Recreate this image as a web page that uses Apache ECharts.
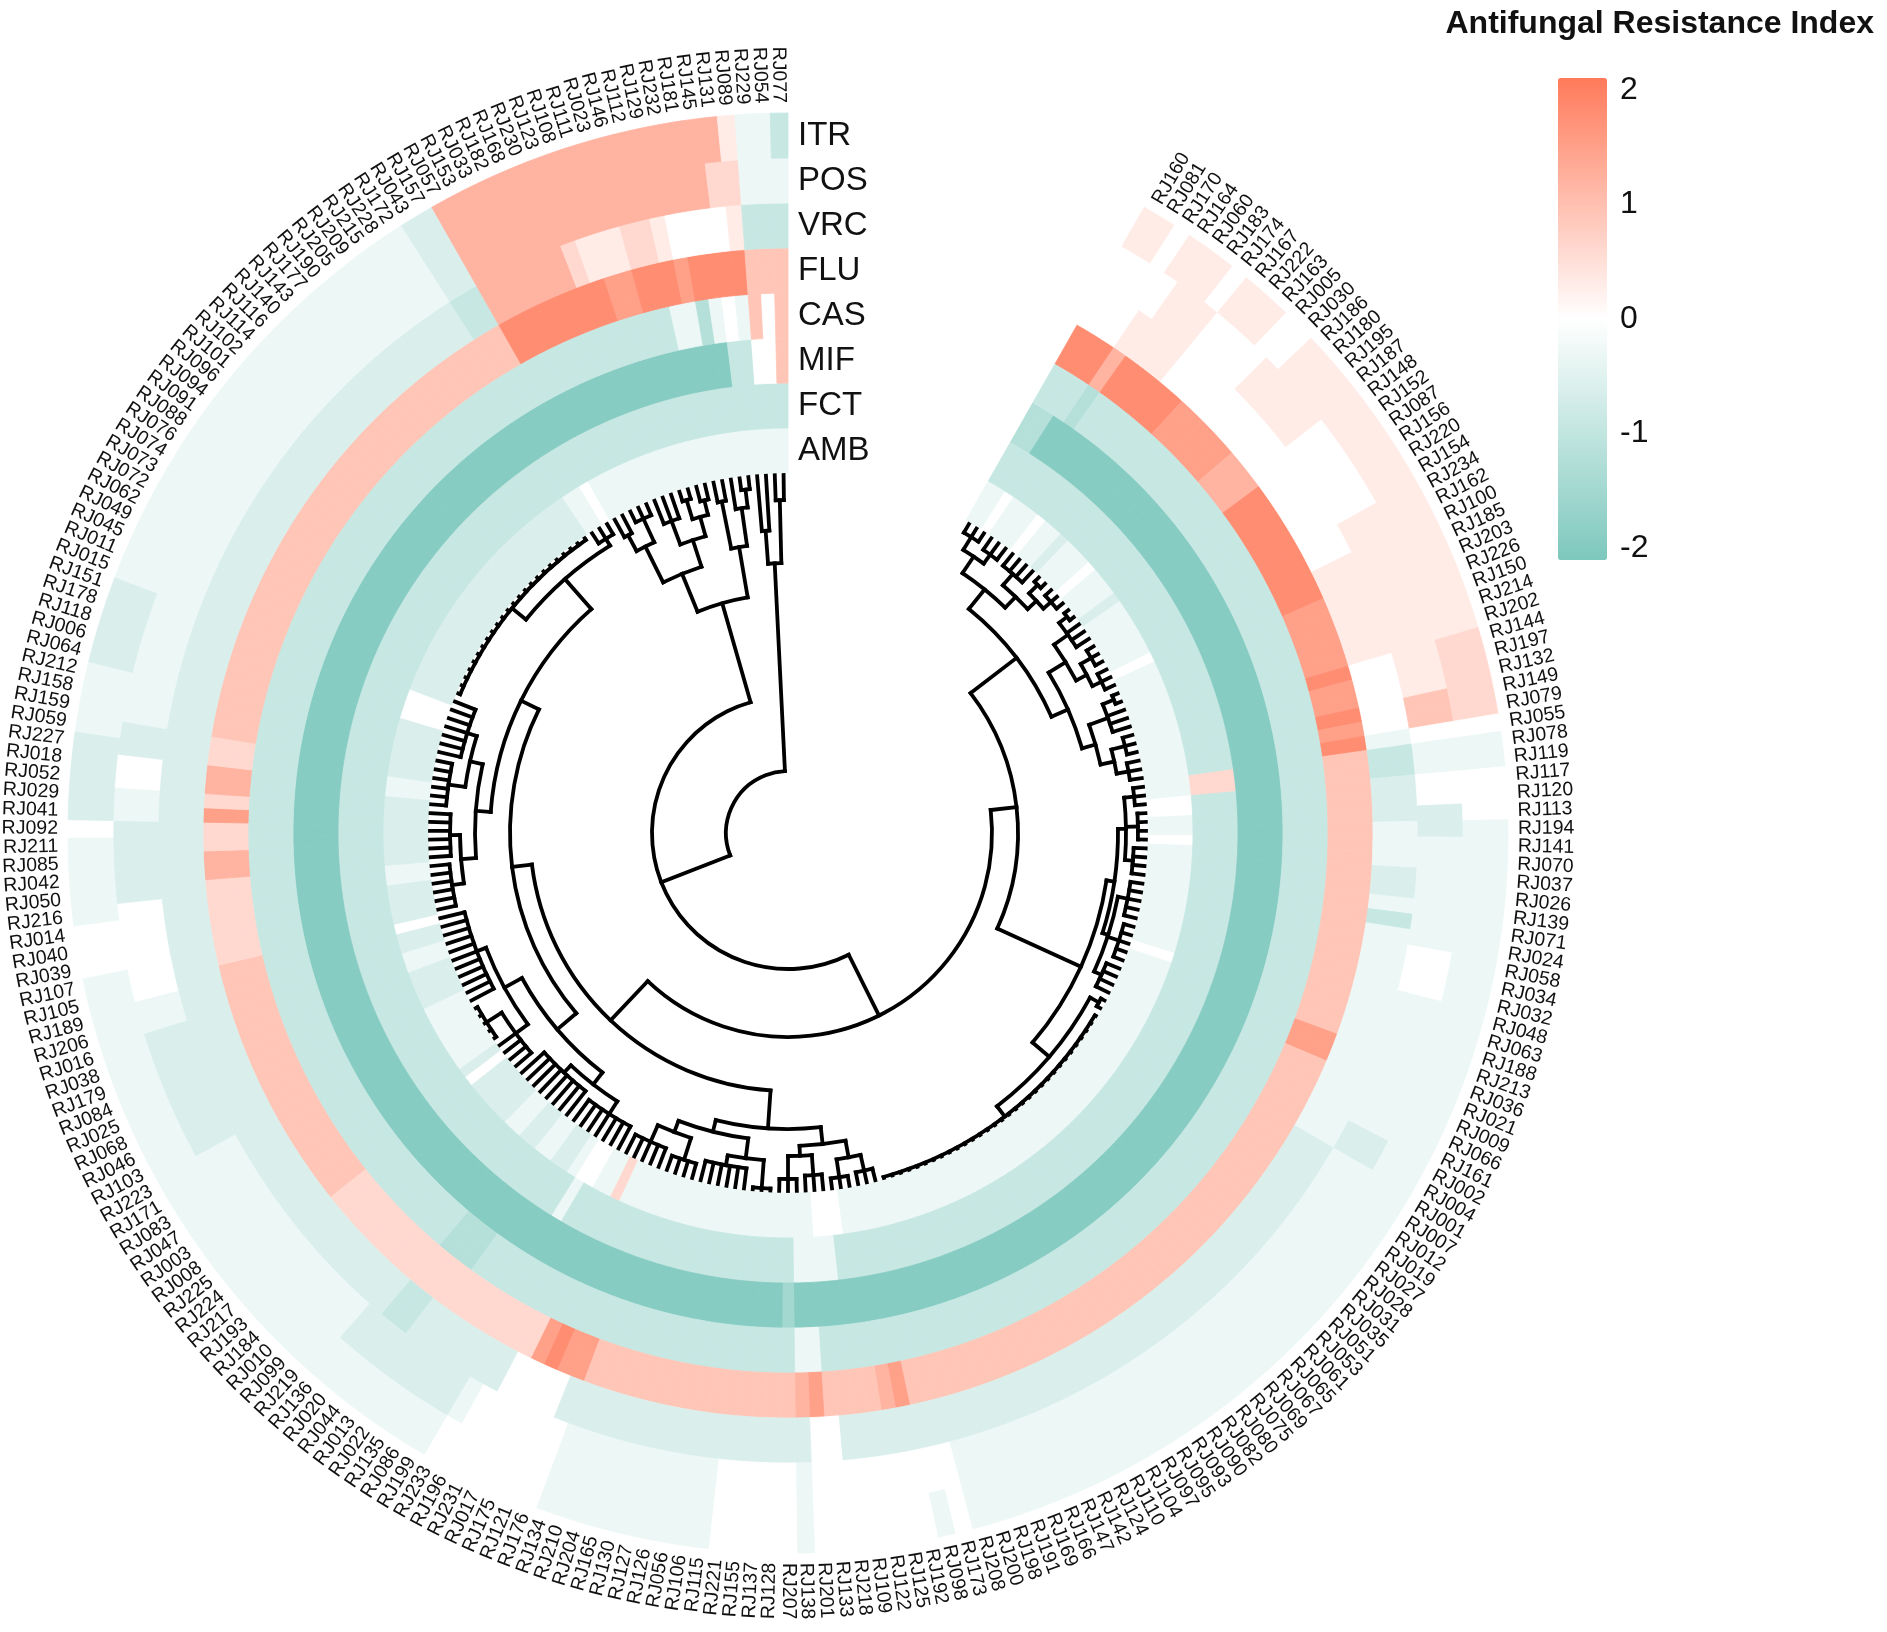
<!DOCTYPE html>
<html>
<head>
<meta charset="utf-8">
<script src="https://cdn.jsdelivr.net/npm/echarts@6/dist/echarts.min.js"></script>
<style>
html,body{margin:0;padding:0;background:#fff;}
#main{width:1887px;height:1632px;}
</style>
</head>
<body>
<div id="main"></div>
<script>
// ---------------- DATA ----------------
// sample order, clockwise starting after the gap (top-right)
const samples = [
"RJ160","RJ081","RJ170","RJ164","RJ060","RJ183","RJ174","RJ167","RJ222","RJ163",
"RJ005","RJ030","RJ186","RJ180","RJ195","RJ187","RJ148","RJ152","RJ087","RJ156",
"RJ220","RJ154","RJ234","RJ162","RJ100","RJ185","RJ203","RJ226","RJ150","RJ214",
"RJ202","RJ144","RJ197","RJ132","RJ149","RJ079","RJ055","RJ078","RJ119","RJ117",
"RJ120","RJ113","RJ194","RJ141","RJ070","RJ037","RJ026","RJ139","RJ071","RJ024",
"RJ058","RJ034","RJ032","RJ048","RJ063","RJ188","RJ213","RJ036","RJ021","RJ009",
"RJ066","RJ161","RJ002","RJ004","RJ001","RJ007","RJ012","RJ019","RJ027","RJ028",
"RJ031","RJ035","RJ051","RJ053","RJ061","RJ065","RJ067","RJ069","RJ075","RJ080",
"RJ082","RJ090","RJ093","RJ095","RJ097","RJ104","RJ110","RJ124","RJ142","RJ147",
"RJ166","RJ169","RJ191","RJ198","RJ200","RJ208","RJ173","RJ098","RJ192","RJ125",
"RJ122","RJ109","RJ218","RJ133","RJ201","RJ138","RJ207","RJ128","RJ137","RJ155",
"RJ221","RJ115","RJ106","RJ056","RJ126","RJ127","RJ130","RJ165","RJ204","RJ210",
"RJ134","RJ176","RJ121","RJ175","RJ017","RJ231","RJ196","RJ233","RJ199","RJ086",
"RJ135","RJ022","RJ013","RJ044","RJ020","RJ136","RJ219","RJ099","RJ010","RJ184",
"RJ193","RJ217","RJ224","RJ225","RJ008","RJ003","RJ047","RJ083","RJ171","RJ223",
"RJ103","RJ046","RJ068","RJ025","RJ084","RJ179","RJ038","RJ016","RJ206","RJ189",
"RJ105","RJ107","RJ039","RJ040","RJ014","RJ216","RJ050","RJ042","RJ085","RJ211",
"RJ092","RJ041","RJ029","RJ052","RJ018","RJ227","RJ059","RJ159","RJ158","RJ212",
"RJ064","RJ006","RJ118","RJ178","RJ151","RJ015","RJ011","RJ045","RJ049","RJ062",
"RJ072","RJ073","RJ074","RJ076","RJ088","RJ091","RJ094","RJ096","RJ101","RJ102",
"RJ114","RJ116","RJ140","RJ143","RJ177","RJ190","RJ205","RJ209","RJ215","RJ228",
"RJ172","RJ043","RJ157","RJ057","RJ153","RJ033","RJ182","RJ168","RJ230","RJ123",
"RJ108","RJ111","RJ023","RJ146","RJ112","RJ129","RJ232","RJ181","RJ145","RJ131",
"RJ089","RJ229","RJ054","RJ077"
];

// rings, inner -> outer
const drugs = ["AMB","FCT","MIF","CAS","FLU","VRC","POS","ITR"];

// value codes (one letter per sample, same order as samples)
const LEVEL = {A:-2.0,B:-1.95,C:-1.5,D:-1.2,E:-0.9,F:-0.6,G:-0.3,H:0,I:0.3,J:0.6,K:0.9,L:1.2,M:1.5,N:1.8,O:2.0};

const ITR = "IIHIIIHIII HHIIIIIIII IIIIIIIIII IJJJJJHGGH HHGGGGGGGG GGGGGGGGGG GGGGGGGGGG GGGGGGGGGG GGGGGGGGGG GGGGGGHGHH HHHHHGHHHH HGGGGGGGGG GHHHHHHHGG GGGGGGGGGG GGGGGGGGGG GGGGGGGGGG GGHHHGGGGG HFFFFFGGGG FFFFFGGGGG GGGGGGGGGG GGGGGGGGGG GFFLLLLLLL LLLLLLLLLL IGGE";
const POS = "HHHHIIIHHH HIIIIIHHHH HHIIIIIIII IIIIKKHGGH HFFGGGGGGG HHHGGGGGGG GGFFGGGGGG GGGGGGGGGG GGGGGGGGGG GGGGGGHHHH HHHHHGHHHH HGGGGGGGGG GHHHHHHGFF FFFFFFGGGG GGGGGGGGGG FFFFFFFFGG HHHHHHFFFF FGGHHFFGGG GGGGGGGGGG GGGGGGGGGG GGGGGGGGGG GFFLLLLLLL LLLLLLLLLJ JGGG";
const VRC = "HHHIIIIHHH HHHHHHHHHH HHHHIIIIII IHHHHHGEEF FFGGGFFGEG GGGGGGGGGG GGGGFFFFFF FFFFFFFFFF FFFFFFFFFF FFFFFFFFFF FFFHHFFFFF FFFFFFFFFF FFHHHHFFFF FFFEEFFFFF FFFFFFFFFF FFFFFFFFFF FFFFFFFFFF FFFFFFFFFF FFFFFFFFFF FFFFFFFFFF FFFFFFFFFF FEELLLLLLJ IIIJJIHHHH IEEE";
const FLU = "NNNLNNNNNM MMMMLLLNNN NNNNNNMMMM MNMMNMNKKK KKKKKKKKKK KKKKKKKMMK KKKKKKKKKK KKKKKKKKKK KKKKKKKKKK KKKKKKKKML KKKKMLKKKK KKKKKKKKKK KMMNMJJJJJ JJJJJJJJJJ JJJKKKKKKK KKKKKKKKKK KJJJJJJLLJ JMJLLJJKKK KKKKKKKKKK KKKKKKKKKK KKKKKKKKKK KKKNNNNNNN NMMNNNMNNN NKKK";
const CAS = "EEEDEEEEEE EEEEEEEEEE EEEEEEEEEE EEEEEEEEEE EEEEEEEEEE EEEEEEEEEE EEEEEEEEEE EEEEEEEEEE EEEEEEEEEE EEEEEEEEEE EEEEGGEEEE EEEEEEEEEE EEEEEEEEEE EEDDDEEEEE EEEEEEEEEE EEEEEEEEEE EEEEEEEEEE EEEEEEEEEE EEEEEEEEEE EEEEEEEEEE EEEEEEEEEE EEEEEEEEEE EEEEEGGDGH GKHK";
const MIF = "DDBBBBBBBB BBBBBBBBBB BBBBBBBBBB BBBBBBBBBB BBBBBBBBBB BBBBBBBBBB BBBBBBBBBB BBBBBBBBBB BBBBBBBBBB BBBBBBBBBB BBBBBBCBBB BBBBBBBBBB BBBBBBBBBB BBBBBBBBBB BBBBBBBBBB BBBBBBBBBB BBBBBBBBBB BBBBBBBBBB BBBBBBBBBB BBBBBBBBBB BBBBBBBBBB BBBBBBBBBB BBBBBBBBBE EHHK";
const FCT = "EEEEEEEEEE EEEEEEEEEE EEEEEEEEEE EEEEEEEJJE EEEEEEEEEE EEEEEEEEEE EEEEEEEEEE EEEEEEEEEE EEEEEEEEEE EEEEEEEEEE EEGGGGEEEE EEEEEEEEEE EEEEEEEEGE EEEEEEEEEE EEEEEEEEEE EEEEEEEEEE EEEEEEEEEE EEEEEEEEEE EEEEEEEEEE EEEEEEEEEE EEEEEEEEEE EEEEEEEEEE EEEEEEEEEE EEEE";
const AMB = "GGHGGGHGGF GGGHGGGFGG GGGGHGGGGG GGGGGGGGGH HGGHGGGGGG GGGGGHGGGG GGGGGGGGGG GGGGGGGGGG GGGGGGGGGG GGGGGGGGGG GHHHGGGGGG GGGGGGGGGG GGGGJGGHHG FFGGFFGGFF FFFHFGGGGG GGFFFFGGFF HFFFFGGFFF FFFFGGFFFF FFHHHFFFFF FFFFFFFFFF FFFFFFFFFF GGHGGGGGGG GGGGGGGGGG GGGG";

// legend ticks
const legendTicks = [-2, -1, 0, 1, 2];

// dendrogram clusters: [first sample index, last sample index, merge height]
const dendroNodes = [
 [0,233,296],
 [0,229,222],
 [230,233,88],[230,231,55],[232,233,25],
 [0,212,154],
 [213,229,119],
 [213,224,78],[213,217,38],[213,214,20],[215,217,12],
 [218,224,50],[218,220,25],[221,224,30],[221,222,10],[223,224,15],
 [225,229,68],[225,226,20],[227,229,30],[228,229,12],
 [0,95,128],
 [0,36,70],
 [0,14,45],[0,5,25],[0,2,10],[3,5,14],[6,14,30],[6,9,15],[10,14,18],[10,11,6],[12,14,8],
 [15,36,52],[15,25,32],[15,19,15],[15,16,5],[20,25,20],[20,22,8],[23,25,10],
 [26,36,38],[26,30,18],[26,27,6],[31,36,24],[31,33,10],[34,36,12],
 [37,95,36],
 [37,61,28],[37,47,20],[37,39,10],[40,43,8],[44,47,12],[48,61,22],[48,52,12],[53,57,10],[58,61,14],
 [62,95,14],[62,63,4],[64,95,1],
 [96,212,100],
 [96,125,62],
 [96,107,45],[96,101,28],[96,98,12],[99,101,10],[102,107,35],[102,104,15],[105,107,12],
 [108,125,50],[108,116,30],[108,110,2],[111,116,20],[117,125,38],[117,120,15],[121,125,20],
 [126,212,80],
 [126,160,55],[126,140,40],[126,132,25],[133,140,30],[141,160,35],[141,149,20],[145,149,2],[150,160,25],
 [161,212,60],[161,185,45],[161,172,30],[161,166,18],[167,172,20],[173,185,32],[173,178,15],[179,185,22],
 [186,212,20],[186,209,2],[210,212,12]
];

// ---------------- BUILD ----------------
const GAP = 21;                       // empty slots at the top for the ring labels
const SLOTS = GAP + samples.length;
const FONT = "'Liberation Sans', Arial, sans-serif";

function decode(s, name) {
  const arr = s.replace(/\s+/g, '').split('').map(c => LEVEL[c]);
  if (arr.length !== samples.length || arr.some(v => v === undefined)) {
    throw new Error('bad ring ' + name + ' length ' + arr.length);
  }
  return arr;
}
const ringValues = {AMB: decode(AMB,'AMB'), FCT: decode(FCT,'FCT'), MIF: decode(MIF,'MIF'), CAS: decode(CAS,'CAS'),
                    FLU: decode(FLU,'FLU'), VRC: decode(VRC,'VRC'), POS: decode(POS,'POS'), ITR: decode(ITR,'ITR')};

const heatData = [];
drugs.forEach((d, r) => {
  ringValues[d].forEach((v, k) => heatData.push([r, GAP + k + 0.5, v, k]));
});

// dendrogram tree
function buildTree() {
  const nodes = dendroNodes.map(d => ({s: d[0], e: d[1], h: d[2], sub: []}));
  const span = n => n.e - n.s;
  const isChild = new Set();
  nodes.forEach(n => {
    let best = null;
    nodes.forEach(m => {
      if (m === n) return;
      if (m.s <= n.s && m.e >= n.e && span(m) > span(n) && (!best || span(m) < span(best))) best = m;
    });
    if (best) { best.sub.push(n); isChild.add(n); }
  });
  nodes.forEach(n => {
    n.sub.sort((a, b) => a.s - b.s);
    const kids = [];
    let k = n.s;
    n.sub.forEach(c => {
      while (k < c.s) { kids.push({leaf: k, h: 0}); k++; }
      kids.push(c); k = c.e + 1;
    });
    while (k <= n.e) { kids.push({leaf: k, h: 0}); k++; }
    n.kids = kids;
  });
  function place(n) {
    if (n.leaf !== undefined) { n.pos = GAP + n.leaf + 0.5; return; }
    n.kids.forEach(place);
    n.pos = (n.kids[0].pos + n.kids[n.kids.length - 1].pos) / 2;
  }
  nodes.filter(n => !isChild.has(n)).forEach(place);
  return nodes;
}
const treeNodes = buildTree();
const dendroData = treeNodes.map((n, i) => [n.h, n.pos, i]);

// ---------------- RENDER ----------------
function renderHeat(params, api) {
  const r = api.value(0), a = api.value(1), k = api.value(3);
  const p = api.coord([r, a]);
  const sz = api.size([1, 1], [r, a]);
  const cs = params.coordSys;
  const dx = p[0] - cs.cx, dy = p[1] - cs.cy;
  const rad = Math.sqrt(dx * dx + dy * dy);
  const th = Math.atan2(dy, dx);
  const col = api.visual('color');
  const children = [{
    type: 'sector',
    shape: {cx: cs.cx, cy: cs.cy, r0: rad - sz[0] / 2, r: rad + sz[0] / 2,
            startAngle: th - sz[1] / 2, endAngle: th + sz[1] / 2, clockwise: true},
    style: {fill: col, stroke: col, lineWidth: 0.8}
  }];
  if (r === drugs.length - 1) {
    const lr = rad + sz[0] / 2 + 10;
    const left = Math.cos(th) < -1e-6;
    children.push({
      type: 'text',
      x: cs.cx + lr * Math.cos(th), y: cs.cy + lr * Math.sin(th),
      rotation: left ? Math.PI - th : -th,
      style: {text: samples[k], align: left ? 'right' : 'left', verticalAlign: 'middle',
              fontSize: 19.5, fontFamily: FONT, fill: '#111'}
    });
  }
  return {type: 'group', children: children};
}

function renderRingLabel(params, api) {
  const r = api.value(0);
  const p = api.coord([r, api.value(1)]);
  return {type: 'text', x: p[0] + 10, y: p[1],
          style: {text: drugs[r], align: 'left', verticalAlign: 'middle', fontSize: 33, fontFamily: FONT, fill: '#111'}};
}

const LW = 3.8;
function renderDendro(params, api) {
  const n = treeNodes[api.value(2)];
  const cs = params.coordSys;
  const cx = cs.cx, cy = cs.cy;
  const first = n.kids[0], last = n.kids[n.kids.length - 1];
  const pa = api.coord([n.h, first.pos]);
  const pb = api.coord([n.h, last.pos]);
  const r = Math.hypot(pa[0] - cx, pa[1] - cy);
  let t1 = Math.atan2(pa[1] - cy, pa[0] - cx);
  let t2 = Math.atan2(pb[1] - cy, pb[0] - cx);
  while (t2 < t1) t2 += 2 * Math.PI;
  const els = [{type: 'arc', shape: {cx: cx, cy: cy, r: r, startAngle: t1, endAngle: t2, clockwise: true},
                style: {stroke: '#000', fill: 'none', lineWidth: LW, lineCap: 'square'}}];
  n.kids.forEach(c => {
    const p1 = api.coord([c.h, c.pos]);
    const p2 = api.coord([n.h, c.pos]);
    els.push({type: 'line', shape: {x1: p1[0], y1: p1[1], x2: p2[0], y2: p2[1]},
              style: {stroke: '#000', lineWidth: LW, lineCap: 'square'}});
  });
  return {type: 'group', children: els};
}

const hiddenAxis = {axisLine: {show: false}, axisTick: {show: false}, axisLabel: {show: false}, splitLine: {show: false}};

const option = {
  backgroundColor: '#ffffff',
  animation: false,
  title: {
    text: 'Antifungal Resistance Index', right: 8, top: 3,
    textStyle: {fontSize: 32, fontWeight: 'bold', color: '#111', fontFamily: FONT}
  },
  polar: [
    {center: [788, 833], radius: [360, 720]},
    {center: [788, 833], radius: [0, 358]}
  ],
  angleAxis: [
    Object.assign({polarIndex: 0, type: 'value', min: 0, max: SLOTS, startAngle: 90, clockwise: true}, hiddenAxis),
    Object.assign({polarIndex: 1, type: 'value', min: 0, max: SLOTS, startAngle: 90, clockwise: true}, hiddenAxis)
  ],
  radiusAxis: [
    Object.assign({polarIndex: 0, type: 'category', data: drugs}, hiddenAxis),
    Object.assign({polarIndex: 1, type: 'value', min: 0, max: 358, inverse: true}, hiddenAxis)
  ],
  grid: {left: 1558, top: 90, width: 49, height: 458, show: false},
  xAxis: {type: 'value', min: 0, max: 1, show: false},
  yAxis: {
    type: 'value', min: legendTicks[0], max: legendTicks[legendTicks.length - 1], interval: 1, position: 'right',
    axisLine: {show: false},
    axisTick: {show: true, length: 9, lineStyle: {color: '#111', width: 2}},
    axisLabel: {fontSize: 32, color: '#111', margin: 13, fontFamily: FONT},
    splitLine: {show: false}
  },
  visualMap: {
    type: 'continuous', min: -2.1, max: 2.1, dimension: 2, seriesIndex: 0,
    calculable: false, left: 1558, top: 78, itemWidth: 49, itemHeight: 482, padding: 0,
    inRange: {color: ['#7DC8BD', '#ffffff', '#FF7A5A']}
  },
  series: [
    {type: 'custom', coordinateSystem: 'polar', polarIndex: 0, data: heatData, renderItem: renderHeat, silent: true},
    {type: 'custom', coordinateSystem: 'polar', polarIndex: 0, data: drugs.map((d, i) => [i, 0]), renderItem: renderRingLabel, silent: true},
    {type: 'custom', coordinateSystem: 'polar', polarIndex: 1, data: dendroData, renderItem: renderDendro, silent: true}
  ]
};

const chart = echarts.init(document.getElementById('main'), null, {renderer: 'canvas'});
chart.setOption(option);
</script>
</body>
</html>
